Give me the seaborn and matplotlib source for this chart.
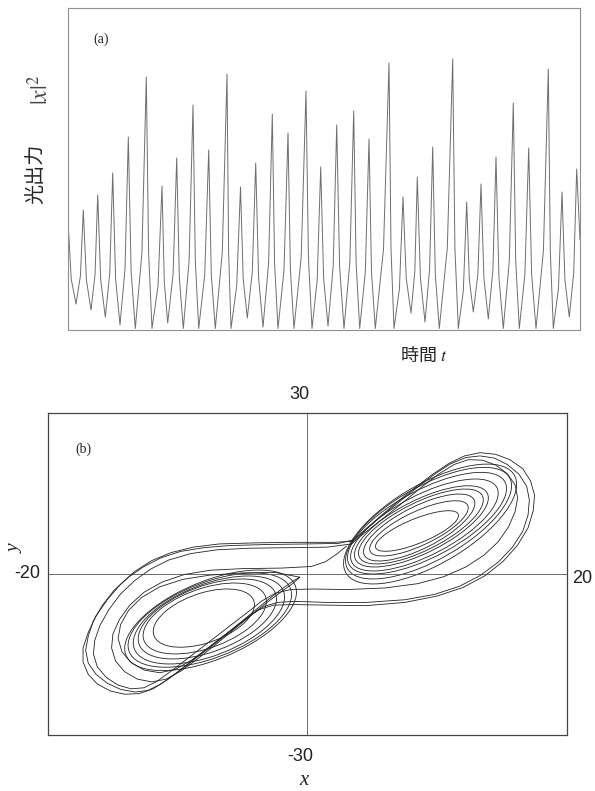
import numpy as np
import pandas as pd
import matplotlib
matplotlib.use("Agg")
import matplotlib.pyplot as plt
import seaborn as sns
from matplotlib.patches import Ellipse

# (a) |x|^2 trace: troughs, flank points and peaks (time, intensity)
trace_t = [0.0, 0.32, 0.8, 1.24, 1.53, 1.84, 2.3, 2.70, 2.97, 3.27, 3.73, 4.17, 4.47,
           4.76, 5.2, 5.70, 6.03, 6.31, 6.73, 7.39, 7.83, 8.06, 8.4, 9.0, 9.4, 9.63,
           9.97, 10.51, 10.87, 11.13, 11.53, 12.11, 12.5, 12.73, 13.07, 13.67, 14.07,
           14.33, 14.73, 15.43, 15.9, 16.06, 16.3, 16.87, 17.25, 17.52, 17.93, 18.43,
           18.77, 19.06, 19.5, 20.06, 20.43, 20.66, 21.0, 21.6, 22.0, 22.24, 22.6,
           23.32, 23.8, 24.04, 24.4, 24.92, 25.27, 25.56, 26.0, 26.52, 26.87, 27.16,
           27.6, 28.18, 28.57, 28.81, 29.17, 29.73, 30.1, 30.35, 30.73, 31.55, 32.1,
           32.3, 32.6, 33.14, 33.5, 33.82, 34.3, 34.68, 34.93, 35.24, 35.7, 36.16,
           36.47, 36.73, 37.13, 37.93, 38.47, 38.69, 39.03, 39.53, 39.87, 40.13,
           40.53, 40.99, 41.3, 41.59, 42.03, 42.49, 42.8, 43.09, 43.53, 44.13, 44.53,
           44.77, 45.13, 45.69, 46.07, 46.36, 46.8, 47.54, 48.03, 48.23, 48.53, 49.05,
           49.4, 49.69, 50.13, 50.57, 50.87, 51.2]
trace_v = [110, 51, 26, 54, 120, 50, 20, 55, 135, 50, 13, 56, 157,
           51, 5, 61, 193, 59, 1.5, 77, 253, 77, 1.5, 44, 144, 48,
           7, 56, 172, 53, 1.5, 69, 225, 69, 1.5, 55, 180,
           55, 1.5, 78, 256, 78, 1.5, 44, 143, 51, 12, 58,
           167, 52, 3, 67, 216, 66, 1.5, 60, 197, 60, 1.5,
           73, 239, 73, 1.5, 50, 163, 52, 4, 64, 205, 63,
           1.5, 67, 219, 67, 1.5, 58, 191, 58, 1.5, 81, 267,
           81, 1.5, 41, 133, 52, 17, 58, 153, 52, 8, 61,
           183, 56, 1.5, 82, 271, 82, 1.5, 39, 128, 51,
           18, 56, 146, 52, 11, 60, 173, 53, 1.5, 69, 227,
           69, 1.5, 56, 182, 56, 1.5, 79, 261, 79, 1.5, 42,
           138, 50, 13, 57, 161, 90]

# (b) nested loops of each wing: centre, half-extent in x and y, correlation
right_cx = [8.44, 8.59, 8.61, 8.74, 8.78, 9.01, 9.21, 9.33, 9.45]
right_cy = [8.01, 8.50, 8.66, 8.85, 8.87, 9.13, 9.47, 9.47, 9.31]
right_ex = [3.20, 3.80, 4.29, 4.81, 5.16, 5.69, 6.13, 6.40, 6.67]
right_ey = [3.78, 5.15, 6.24, 6.98, 7.57, 8.57, 9.47, 10.40, 11.17]
right_rho = [0.76, 0.74, 0.72, 0.71, 0.70, 0.69, 0.68, 0.67, 0.66]

left_cx = [-7.99, -7.92, -7.72, -7.60, -7.53, -7.47]
left_cy = [-8.22, -8.29, -8.38, -8.57, -8.59, -8.63]
left_ex = [3.90, 4.75, 5.33, 5.83, 6.30, 6.62]
left_ey = [5.43, 6.61, 7.45, 8.20, 8.78, 9.37]
left_rho = [0.46, 0.48, 0.50, 0.52, 0.54, 0.56]

# (b) strands that cross between the wings
f1_x = [3.6, 2.4, 0.0, -3.0, -6.0, -8.0, -9.8, -11.3, -12.6, -13.8, -14.9, -15.8, -16.5,
        -16.9, -17.1, -16.9, -16.3, -15.4, -14.4, -13.3, -12.3, -11.3, -10.0, -8.5, -7.0,
        -5.5, -4.3, -3.3, -2.3, -1.0, 1.5, 4.5, 7.5, 9.8, 11.7, 13.3, 14.7, 15.8, 16.6,
        17.0, 17.1, 16.9, 16.3, 15.4, 14.4, 13.3, 12.2, 11.0, 9.8, 8.5, 7.0, 5.6, 4.5, 3.6]
f1_y = [6.4, 5.7, 5.6, 5.5, 5.3, 4.9, 4.2, 3.0, 1.4, -0.6, -3.0, -5.8, -8.7,
        -11.6, -14.2, -16.6, -18.7, -20.4, -21.5, -22.0, -21.7, -20.5, -18.3, -15.5, -12.7,
        -9.8, -7.5, -6.0, -5.3, -5.1, -5.3, -5.3, -4.8, -3.8, -2.3, -0.3, 2.2, 5.0, 8.0,
        11.0, 13.8, 16.3, 18.6, 20.4, 21.6, 22.0, 21.7, 20.5, 18.6, 16.2, 13.3, 10.6, 8.3, 6.4]
f2_x = [3.4, 1.5, -1.5, -4.5, -7.0, -9.0, -10.7, -12.1, -13.3, -14.4, -15.3, -16.0, -16.4,
        -16.5, -16.2, -15.5, -14.6, -13.6, -12.6, -11.6, -10.4, -9.0, -7.5, -6.0, -4.6,
        -3.5, -2.5, -1.3, 0.5, 3.0, 6.0, 8.5, 10.5, 12.2, 13.6, 14.7, 15.5, 16.0, 16.2,
        16.0, 15.4, 14.5, 13.5, 12.4, 11.3, 10.1, 8.8, 7.4, 6.0, 4.8, 3.9, 3.4]
f2_y = [5.6, 5.0, 4.9, 4.8, 4.5, 3.8, 2.6, 0.9, -1.2, -3.7, -6.6, -9.6, -12.4,
        -14.9, -17.3, -19.3, -20.7, -21.4, -21.2, -20.0, -17.9, -15.3, -12.5, -9.7, -7.1,
        -5.0, -3.6, -2.9, -2.8, -2.9, -2.6, -1.8, -0.5, 1.3, 3.5, 6.0, 8.8, 11.6, 14.2,
        16.6, 18.7, 20.3, 21.2, 21.3, 20.4, 18.6, 16.2, 13.4, 10.7, 8.4, 6.7, 5.6]
f3_x = [3.5, 2.0, -1.0, -4.0, -6.8, -8.8, -10.5, -12.0, -13.3, -14.4, -15.4, -16.3, -16.9,
        -17.3, -17.3, -16.9, -16.2, -15.2, -14.1, -13.0, -11.9, -10.8, -9.4, -7.9, -6.3,
        -4.9, -3.7, -2.6, -1.0, 1.5, 4.5, 7.5, 10.0, 12.0, 13.7, 15.1, 16.2, 17.0, 17.4,
        17.5, 17.2, 16.6, 15.6, 14.5, 13.3, 12.1, 10.9, 9.6, 8.2, 6.8, 5.5, 4.4, 3.5]
f3_y = [6.1, 5.9, 5.9, 5.8, 5.6, 5.0, 4.0, 2.5, 0.5, -1.9, -4.7, -7.8, -10.9,
        -13.8, -16.4, -18.7, -20.5, -21.8, -22.4, -22.3, -21.4, -19.7, -17.1, -14.2, -11.2,
        -8.6, -6.6, -5.8, -5.7, -5.8, -5.9, -5.3, -4.1, -2.5, -0.3, 2.4, 5.4, 8.6, 11.8,
        14.7, 17.3, 19.6, 21.3, 22.3, 22.6, 22.0, 20.6, 18.5, 15.9, 13.2, 10.5, 8.2, 6.1]
g1_x = [3.0, 2.3, 1.4, 0.3, -2.0, -5.0, -7.5, -9.5, -11.2, -12.6, -13.7, -14.5, -15.0,
        -15.1, -14.8, -14.1, -13.1, -12.0, -10.9, -9.7, -8.3, -6.8, -5.3, -4.0, -2.9,
        -1.9, -1.1, -0.6]
g1_y = [5.2, 3.8, 2.3, 1.4, 1.1, 1.0, 0.7, -0.1, -1.5, -3.4, -5.8, -8.5, -11.2,
        -13.8, -16.2, -18.2, -19.6, -20.1, -19.6, -18.0, -15.5, -12.6, -9.6, -7.0, -4.9,
        -3.1, -1.7, -0.6]
g2_x = [-0.6, -2.5, -5.0, -7.5, -9.6, -11.4, -12.8, -13.8, -14.4, -14.6, -14.3, -13.6,
        -12.6, -11.4, -10.2, -8.9, -7.5, -6.0, -4.6, -3.3, -2.1, -1.1, -0.6]
g2_y = [-0.6, 0.3, 0.2, -0.2, -1.0, -2.4, -4.4, -6.8, -9.4, -12.0, -14.5, -16.5,
        -17.9, -18.4, -17.8, -16.0, -13.5, -10.7, -7.9, -5.3, -3.0, -1.3, -0.6]

sns.set_theme(style="white")
plt.rcParams["font.family"] = ["Noto Sans CJK JP", "DejaVu Sans"]
plt.rcParams["mathtext.fontset"] = "stix"

fig = plt.figure(figsize=(5.95, 7.91), dpi=100)
ax_a = fig.add_axes([0.1143, 0.5828, 0.8605, 0.4071])
ax_b = fig.add_axes([0.0807, 0.0708, 0.8722, 0.4071])

# ---- (a) time series
sns.lineplot(x=trace_t, y=trace_v, ax=ax_a, color="#6e6e6e", linewidth=0.7, sort=False)
ax_a.set_xlim(0, 51.2)
ax_a.set_ylim(0, 322)
ax_a.set_xticks([])
ax_a.set_yticks([])
for s in ax_a.spines.values():
    s.set_color("#909090")
    s.set_linewidth(0.8)

ax_a.text(0.064, 0.904, "(a)", transform=ax_a.transAxes, ha="center", va="center",
          fontsize=10, family="Liberation Serif")
ax_a.text(-0.0625, 0.485, "光出力", transform=ax_a.transAxes, ha="center", va="center",
          rotation=90, fontsize=14.5)
ax_a.text(-0.053, 0.745, r"$|x|^2$", transform=ax_a.transAxes, ha="center", va="center",
          rotation=90, fontsize=17, color="#444444")
ax_a.text(0.695, -0.078, "時間 $t$", transform=ax_a.transAxes, ha="center", va="center",
          fontsize=13)

# ---- (b) phase portrait
ax_b.axhline(0, color="#555555", lw=0.6)
ax_b.axvline(0, color="#555555", lw=0.6)


def draw_loop(ax, cx, cy, ex, ey, rho):
    cov = np.array([[ex ** 2, rho * ex * ey], [rho * ex * ey, ey ** 2]])
    vals, vecs = np.linalg.eigh(cov)
    ang = np.degrees(np.arctan2(vecs[1, 1], vecs[0, 1]))
    ax.add_patch(Ellipse((cx, cy), 2 * np.sqrt(vals[1]), 2 * np.sqrt(vals[0]),
                         angle=ang, fill=False, ec="#222222", lw=0.6))


for i in range(len(right_cx)):
    draw_loop(ax_b, right_cx[i], right_cy[i], right_ex[i], right_ey[i], right_rho[i])
for i in range(len(left_cx)):
    draw_loop(ax_b, left_cx[i], left_cy[i], left_ex[i], left_ey[i], left_rho[i])

strands = pd.concat([
    pd.DataFrame({"x": f1_x, "y": f1_y, "strand": 1}),
    pd.DataFrame({"x": f2_x, "y": f2_y, "strand": 2}),
    pd.DataFrame({"x": f3_x, "y": f3_y, "strand": 3}),
    pd.DataFrame({"x": g1_x, "y": g1_y, "strand": 4}),
    pd.DataFrame({"x": g2_x, "y": g2_y, "strand": 5}),
])
sns.lineplot(data=strands, x="x", y="y", units="strand", estimator=None, sort=False,
             color="#222222", linewidth=0.6, ax=ax_b)

ax_b.set_xlim(-20, 20)
ax_b.set_ylim(-30, 30)
ax_b.set_xticks([])
ax_b.set_yticks([])
ax_b.set_xlabel("")
ax_b.set_ylabel("")
for s in ax_b.spines.values():
    s.set_color("#444444")
    s.set_linewidth(0.9)

num = dict(fontsize=13, family="Liberation Sans", color="#222222")
ax_b.text(-0.6, 31.9, "30", ha="center", va="bottom", **num)
ax_b.text(-0.55, -32.4, "-30", ha="center", va="top", **num)
ax_b.text(20.4, -0.75, "20", ha="left", va="center", **num)
ax_b.text(-20.6, 0.0, "-20", ha="right", va="center", **num)
ax_b.text(-17.3, 23.3, "(b)", ha="center", va="center", fontsize=10, family="Liberation Serif")
ax_b.text(-22.5, 4.7, "y", ha="center", va="center", rotation=90, fontsize=14,
          family="Liberation Serif", style="italic")
ax_b.text(-0.3, -38.5, "x", ha="center", va="center", fontsize=15,
          family="Liberation Serif", style="italic")

fig.savefig("out.png", dpi=100)
